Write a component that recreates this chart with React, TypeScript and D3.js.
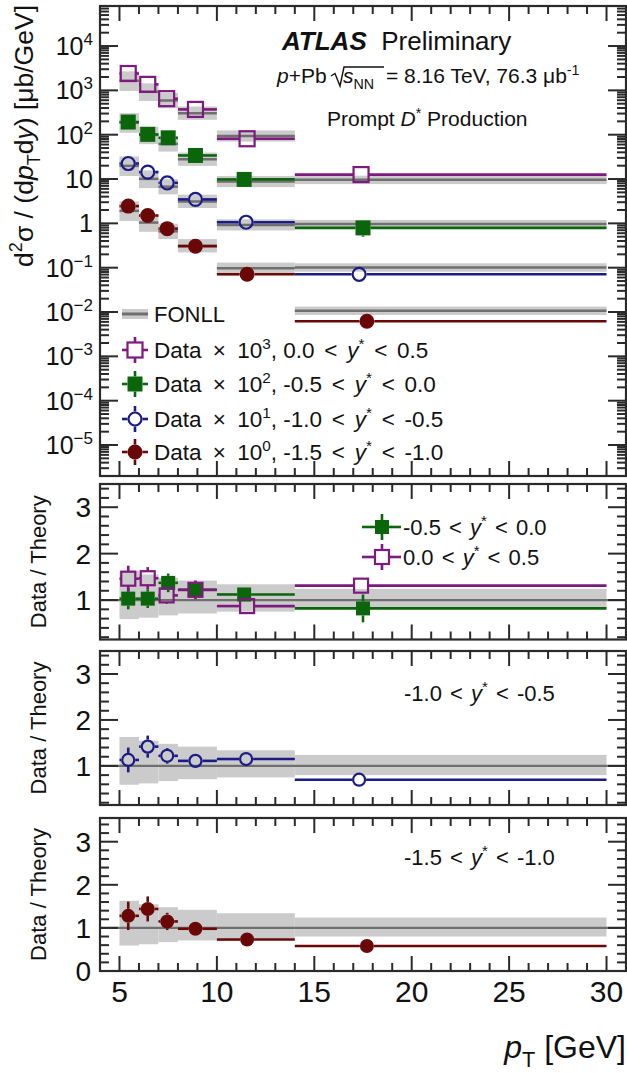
import React from "react";
import * as d3 from "d3";

// pT bin edges [GeV]
const ptEdges = [5, 6, 7, 8, 10, 14, 30];

// mean pT inside each bin, per rapidity interval
const ptMeanY0 = [5.45, 6.45, 7.42, 8.9, 11.55, 17.4]; // 0.0 < y* < 0.5
const ptMeanY1 = [5.45, 6.45, 7.5, 8.9, 11.4, 17.5]; // -0.5 < y* < 0.0
const ptMeanY2 = [5.45, 6.45, 7.45, 8.9, 11.5, 17.3]; // -1.0 < y* < -0.5
const ptMeanY3 = [5.45, 6.45, 7.45, 8.9, 11.55, 17.7]; // -1.5 < y* < -1.0

// measured cross sections d2sigma/dpT dy [ub/GeV], before the display scale factor
const xsecY0 = [2.4, 1.365, 0.65, 0.372, 0.081, 0.0126];
const xsecY1 = [1.93, 1.016, 0.85, 0.34, 0.098, 0.0079];
const xsecY2 = [2.24, 1.43, 0.82, 0.347, 0.106, 0.0071];
const xsecY3 = [2.45, 1.5, 0.76, 0.305, 0.071, 0.0062];

// data / FONLL ratios
const ratioY0 = [1.46, 1.47, 1.1, 1.22, 0.87, 1.31];
const ratioY1 = [1.03, 1.03, 1.37, 1.22, 1.12, 0.82];
const ratioY2 = [1.13, 1.42, 1.22, 1.11, 1.15, 0.7];
const ratioY3 = [1.28, 1.44, 1.15, 0.98, 0.73, 0.58];

// statistical uncertainty on the ratios
const ratioErrY0 = [0.28, 0.24, 0.18, 0.2, 0.08, 0.12];
const ratioErrY1 = [0.23, 0.2, 0.2, 0.18, 0.08, 0.3];
const ratioErrY2 = [0.27, 0.24, 0.17, 0.08, 0.08, 0.05];
const ratioErrY3 = [0.33, 0.29, 0.2, 0.08, 0.05, 0.04];

// FONLL uncertainty envelope relative to the central prediction
const fonllUp = [1.63, 1.55, 1.48, 1.42, 1.34, 1.24];
const fonllDown = [0.59, 0.62, 0.67, 0.71, 0.75, 0.8];

// axis ticks
const xMajorTicks = [5, 10, 15, 20, 25, 30];
const logExponents = [-5, -4, -3, -2, -1, 0, 1, 2, 3, 4];

const FONT = "'Liberation Sans', Arial, Helvetica, sans-serif";
const FRAME = "#2a2a2a";
const BAND = "#cbcbcb";
const CENTRAL = "#6f6f6f";

const W = 627;
const H = 1073;
const X0 = 100;
const X1 = 626;

const x = d3.scaleLinear().domain([4, 31]).range([X0, X1]);

const TOP = { y0: 6, y1: 476 };
const yTop = d3.scaleLog().domain([2e-6, 8e4]).range([TOP.y1, TOP.y0]);

type Kind = "openSquare" | "filledSquare" | "openCircle" | "filledCircle";

type Series = {
  color: string;
  kind: Kind;
  scale: number;
  exp: string;
  range: string[];
  mean: number[];
  xsec: number[];
  ratio: number[];
  err: number[];
};

const seriesY0: Series = {
  color: "#7e1a7e",
  kind: "openSquare",
  scale: 1e3,
  exp: "3",
  range: ["0.0", "0.5"],
  mean: ptMeanY0,
  xsec: xsecY0,
  ratio: ratioY0,
  err: ratioErrY0,
};
const seriesY1: Series = {
  color: "#0b660b",
  kind: "filledSquare",
  scale: 1e2,
  exp: "2",
  range: ["-0.5", "0.0"],
  mean: ptMeanY1,
  xsec: xsecY1,
  ratio: ratioY1,
  err: ratioErrY1,
};
const seriesY2: Series = {
  color: "#1b1b88",
  kind: "openCircle",
  scale: 1e1,
  exp: "1",
  range: ["-1.0", "-0.5"],
  mean: ptMeanY2,
  xsec: xsecY2,
  ratio: ratioY2,
  err: ratioErrY2,
};
const seriesY3: Series = {
  color: "#6a0808",
  kind: "filledCircle",
  scale: 1,
  exp: "0",
  range: ["-1.5", "-1.0"],
  mean: ptMeanY3,
  xsec: xsecY3,
  ratio: ratioY3,
  err: ratioErrY3,
};
const allSeries = [seriesY0, seriesY1, seriesY2, seriesY3];

type Seg = { t: string; sup?: boolean; sub?: boolean; it?: boolean; b?: boolean; dx?: number };

function Rich(props: {
  x: number;
  y: number;
  segs: Seg[];
  size: number;
  anchor?: string;
  transform?: string;
  fill?: string;
}) {
  const { x: tx, y: ty, segs, size, anchor, transform, fill } = props;
  let shift = 0;
  const kids = segs.map((s, i) => {
    const target = s.sup ? -size * 0.4 : s.sub ? size * 0.28 : 0;
    const dy = target - shift;
    shift = target;
    return (
      <tspan
        key={i}
        dy={dy}
        dx={s.dx}
        fontSize={s.sup || s.sub ? size * 0.68 : size}
        fontStyle={s.it ? "italic" : undefined}
        fontWeight={s.b ? "bold" : undefined}
      >
        {s.t}
      </tspan>
    );
  });
  return (
    <text
      x={tx}
      y={ty}
      fontSize={size}
      fontFamily={FONT}
      textAnchor={anchor || "start"}
      transform={transform}
      fill={fill || "#111"}
      style={{ whiteSpace: "pre" }}
    >
      {kids}
    </text>
  );
}

function Marker(p: { cx: number; cy: number; kind: Kind; color: string; s: number }) {
  const { cx, cy, kind, color, s } = p;
  if (kind === "openSquare")
    return <rect x={cx - s / 2} y={cy - s / 2} width={s} height={s} fill="none" stroke={color} strokeWidth={2.2} />;
  if (kind === "filledSquare")
    return <rect x={cx - s / 2} y={cy - s / 2} width={s} height={s} fill={color} />;
  if (kind === "openCircle")
    return <circle cx={cx} cy={cy} r={s / 2 - 1} fill="none" stroke={color} strokeWidth={2.2} />;
  return <circle cx={cx} cy={cy} r={s / 2} fill={color} />;
}

// error cross with the arms stopping at the marker edge
function Point(p: {
  cx: number;
  cy: number;
  xlo: number;
  xhi: number;
  ylo: number;
  yhi: number;
  kind: Kind;
  color: string;
  s: number;
}) {
  const { cx, cy, xlo, xhi, ylo, yhi, kind, color, s } = p;
  const h = s / 2;
  const segs: [number, number, number, number][] = [];
  if (xlo < cx - h) segs.push([xlo, cy, cx - h, cy]);
  if (xhi > cx + h) segs.push([cx + h, cy, xhi, cy]);
  if (yhi < cy - h) segs.push([cx, yhi, cx, cy - h]);
  if (ylo > cy + h) segs.push([cx, cy + h, cx, ylo]);
  return (
    <g>
      {segs.map((q, i) => (
        <line key={i} x1={q[0]} y1={q[1]} x2={q[2]} y2={q[3]} stroke={color} strokeWidth={2.6} />
      ))}
      <Marker cx={cx} cy={cy} kind={kind} color={color} s={s} />
    </g>
  );
}

function XTicks(p: { y0: number; y1: number }) {
  const out: JSX.Element[] = [];
  for (let v = 4; v <= 31; v++) {
    const px = x(v);
    if (px <= X0 + 1 || px >= X1 - 1) continue;
    const len = xMajorTicks.includes(v) ? 15 : 8;
    out.push(<line key={"b" + v} x1={px} x2={px} y1={p.y1} y2={p.y1 - len} />);
    out.push(<line key={"t" + v} x1={px} x2={px} y1={p.y0} y2={p.y0 + len} />);
  }
  return <g stroke={FRAME} strokeWidth={2}>{out}</g>;
}

function YTicks(p: { vals: { v: number; major: boolean }[]; y: (v: number) => number; y0: number; y1: number }) {
  const out: JSX.Element[] = [];
  p.vals.forEach((t, i) => {
    const py = p.y(t.v);
    if (py <= p.y0 + 1 || py >= p.y1 - 1) return;
    const len = t.major ? 18 : 9;
    out.push(<line key={"l" + i} x1={X0} x2={X0 + len} y1={py} y2={py} />);
    out.push(<line key={"r" + i} x1={X1} x2={X1 - len} y1={py} y2={py} />);
  });
  return <g stroke={FRAME} strokeWidth={2}>{out}</g>;
}

function Frame(p: { y0: number; y1: number }) {
  return <rect x={X0} y={p.y0} width={X1 - X0} height={p.y1 - p.y0} fill="none" stroke={FRAME} strokeWidth={2.2} />;
}

// "lo < y* < hi" with the wider spacing around the relation signs
function rapidityText(lo: string, hi: string, gap = 2): Seg[] {
  return [
    { t: lo },
    { t: " < ", dx: gap },
    { t: "y", it: true, dx: gap },
    { t: "*", sup: true },
    { t: " < ", dx: gap },
    { t: hi, dx: gap },
  ];
}

function TopPanel() {
  const bins = d3.range(ptEdges.length - 1);
  const logTicks: { v: number; major: boolean }[] = [];
  for (let e = -6; e <= 4; e++) for (let m = 1; m <= 9; m++) logTicks.push({ v: m * Math.pow(10, e), major: m === 1 });

  const bands: JSX.Element[] = [];
  const lines: JSX.Element[] = [];
  const points: JSX.Element[] = [];
  allSeries.forEach((s, si) => {
    bins.forEach((i) => {
      const d = s.xsec[i] * s.scale;
      const theory = d / s.ratio[i];
      const xa = x(ptEdges[i]);
      const xb = x(ptEdges[i + 1]);
      bands.push(
        <rect key={`b${si}${i}`} x={xa} width={xb - xa} y={yTop(theory * fonllUp[i])} height={yTop(theory * fonllDown[i]) - yTop(theory * fonllUp[i])} fill={BAND} />
      );
      lines.push(<line key={`c${si}${i}`} x1={xa} x2={xb} y1={yTop(theory)} y2={yTop(theory)} stroke={CENTRAL} strokeWidth={2.5} />);
      const rel = s.err[i] / s.ratio[i];
      points.push(
        <Point
          key={`p${si}${i}`}
          cx={x(s.mean[i])}
          cy={yTop(d)}
          xlo={xa}
          xhi={xb}
          yhi={yTop(d * (1 + rel))}
          ylo={yTop(Math.max(d * (1 - rel), 1e-7))}
          kind={s.kind}
          color={s.color}
          s={15}
        />
      );
    });
  });

  const labelFor = (e: number): Seg[] => {
    if (e === 0) return [{ t: "1" }];
    if (e === 1) return [{ t: "10" }];
    return [{ t: "10" }, { t: e < 0 ? "\u2212" + -e : String(e), sup: true }];
  };

  const legendY = [350, 384, 419, 452];
  const LX = 135;

  return (
    <g>
      {bands}
      {lines}
      {points}
      {/* legend */}
      <rect x={122} y={309} width={26} height={10} fill={BAND} />
      <line x1={122} x2={148} y1={314} y2={314} stroke={CENTRAL} strokeWidth={3} />
      <Rich x={154} y={322} size={22} segs={[{ t: "FONLL" }]} />
      {allSeries.map((s, k) => (
        <g key={"lg" + k}>
          <Point cx={LX} cy={legendY[k]} xlo={LX - 13} xhi={LX + 13} yhi={legendY[k] - 13} ylo={legendY[k] + 13} kind={s.kind} color={s.color} s={15} />
          <Rich
            x={154}
            y={legendY[k] + 8}
            size={22.5}
            segs={[
              { t: "Data" },
              { t: " \u00d7 ", dx: 5 },
              { t: "10", dx: 5 },
              { t: s.exp, sup: true },
              { t: ", " },
              ...rapidityText(s.range[0], s.range[1], 3.5),
            ]}
          />
        </g>
      ))}
      {/* labels */}
      <Rich x={282} y={50} size={26} segs={[{ t: "ATLAS", b: true, it: true }, { t: "  Preliminary" }]} />
      <Rich x={277} y={83} size={21} segs={[{ t: "p", it: true }, { t: "+Pb" }]} />
      <path d="M331,76 L335,73.5 L340,86 L344,67 L384,67" fill="none" stroke="#111" strokeWidth={1.4} />
      <Rich x={343} y={83} size={21} segs={[{ t: "s", it: true }, { t: "NN", sub: true }]} />
      <Rich x={386} y={83} size={21} segs={[{ t: "= 8.16 TeV, 76.3 \u03bcb" }, { t: "-1", sup: true }]} />
      <Rich x={327} y={126} size={21} segs={[{ t: "Prompt " }, { t: "D", it: true }, { t: "*", sup: true }, { t: " Production" }]} />
      {/* axes */}
      <XTicks y0={TOP.y0} y1={TOP.y1} />
      <YTicks vals={logTicks} y={yTop} y0={TOP.y0} y1={TOP.y1} />
      <Frame y0={TOP.y0} y1={TOP.y1} />
      {logExponents.map((e) => (
        <Rich key={"yl" + e} x={93} y={yTop(Math.pow(10, e)) + 9} size={25} anchor="end" segs={labelFor(e)} />
      ))}
      <Rich
        x={33}
        y={5}
        size={26.5}
        anchor="end"
        transform="rotate(-90, 33, 5)"
        segs={[
          { t: "d" },
          { t: "2", sup: true },
          { t: "\u03c3 / (d" },
          { t: "p", it: true },
          { t: "T", sub: true },
          { t: "d" },
          { t: "y", it: true },
          { t: ") [\u03bcb/GeV]" },
        ]}
      />
    </g>
  );
}

type RatioPanelDef = { y0: number; y1: number; lo: number; hi: number; series: Series[] };

function RatioPanel(p: RatioPanelDef & { children?: React.ReactNode; labels: number[] }) {
  const y = d3.scaleLinear().domain([p.lo, p.hi]).range([p.y1, p.y0]);
  const bins = d3.range(ptEdges.length - 1);
  const ticks: { v: number; major: boolean }[] = [];
  for (let k = 0; k <= 20; k++) {
    const v = k * 0.2;
    ticks.push({ v, major: k % 5 === 0 });
  }
  const cy = (p.y0 + p.y1) / 2;
  return (
    <g>
      {bins.map((i) => (
        <rect
          key={"rb" + i}
          x={x(ptEdges[i])}
          width={x(ptEdges[i + 1]) - x(ptEdges[i])}
          y={y(fonllUp[i])}
          height={y(fonllDown[i]) - y(fonllUp[i])}
          fill={BAND}
        />
      ))}
      <line x1={X0} x2={X1} y1={y(1)} y2={y(1)} stroke={CENTRAL} strokeWidth={2.2} />
      {p.series.map((s, si) =>
        bins.map((i) => (
          <Point
            key={`rp${si}${i}`}
            cx={x(s.mean[i])}
            cy={y(s.ratio[i])}
            xlo={x(ptEdges[i])}
            xhi={x(ptEdges[i + 1])}
            yhi={y(s.ratio[i] + s.err[i])}
            ylo={y(s.ratio[i] - s.err[i])}
            kind={s.kind}
            color={s.color}
            s={14}
          />
        ))
      )}
      {p.children}
      <XTicks y0={p.y0} y1={p.y1} />
      <YTicks vals={ticks} y={y} y0={p.y0} y1={p.y1} />
      <Frame y0={p.y0} y1={p.y1} />
      {p.labels.map((v) => (
        <Rich key={"rl" + v} x={91} y={y(v) + 10} size={28} anchor="end" segs={[{ t: String(v) }]} />
      ))}
      <Rich x={46} y={cy} size={22} anchor="middle" transform={`rotate(-90, 46, ${cy})`} segs={[{ t: "Data / Theory" }]} />
    </g>
  );
}

export default function App() {
  const legendX = 382;
  return (
    <svg width={W} height={H} viewBox={`0 0 ${W} ${H}`} style={{ position: "absolute", left: 0, top: 0, background: "#fff" }}>
      <rect width={W} height={H} fill="#fff" />
      <TopPanel />
      <RatioPanel y0={484} y1={639.5} lo={0.15} hi={3.5} series={[seriesY1, seriesY0]} labels={[1, 2, 3]}>
        <Point cx={legendX} cy={527} xlo={legendX - 20} xhi={legendX + 19} yhi={514} ylo={540} kind={seriesY1.kind} color={seriesY1.color} s={14} />
        <Rich x={403} y={535} size={22} segs={rapidityText(seriesY1.range[0], seriesY1.range[1])} />
        <Point cx={legendX} cy={557} xlo={legendX - 20} xhi={legendX + 19} yhi={544} ylo={570} kind={seriesY0.kind} color={seriesY0.color} s={14} />
        <Rich x={403} y={565} size={22} segs={rapidityText(seriesY0.range[0], seriesY0.range[1])} />
      </RatioPanel>
      <RatioPanel y0={651} y1={805} lo={0.15} hi={3.5} series={[seriesY2]} labels={[1, 2, 3]}>
        <Rich x={404} y={701} size={22} segs={rapidityText(seriesY2.range[0], seriesY2.range[1])} />
      </RatioPanel>
      <RatioPanel y0={818} y1={971} lo={0} hi={3.55} series={[seriesY3]} labels={[0, 1, 2, 3]}>
        <Rich x={404} y={865} size={22} segs={rapidityText(seriesY3.range[0], seriesY3.range[1])} />
      </RatioPanel>
      {xMajorTicks.map((v) => (
        <Rich key={"xl" + v} x={x(v)} y={1002} size={30} anchor="middle" segs={[{ t: String(v) }]} />
      ))}
      <Rich x={626} y={1058} size={32} anchor="end" segs={[{ t: "p", it: true }, { t: "T", sub: true }, { t: " [GeV]" }]} />
    </svg>
  );
}
